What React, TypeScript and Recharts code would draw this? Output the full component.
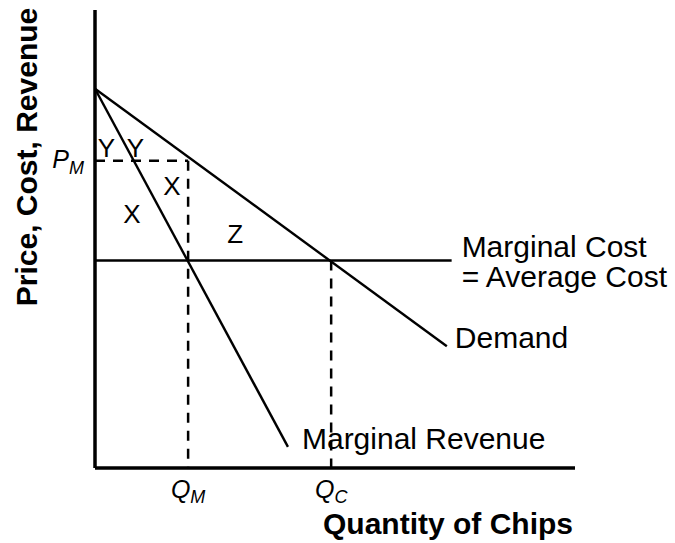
import { LineChart, Line, XAxis, YAxis, ReferenceDot } from "recharts"

const FONT = '"Liberation Sans", Arial, Helvetica, sans-serif'

// quantity (q) vs price (p), arbitrary units
const demand = [
  { q: 0, p: 82.8 },
  { q: 73.3, p: 26.6 },
]
const marginalRevenue = [
  { q: 0, p: 82.8 },
  { q: 40.2, p: 4.6 },
]
const marginalCost = [
  { q: 0, p: 45.3 },
  { q: 74.3, p: 45.3 },
]

const qM = 19.4
const qC = 49.2
const pM = 67.1
const mc = 45.3

const pmGuide = [
  { q: 0, p: pM },
  { q: qM, p: pM },
]
const qmGuide = [
  { q: qM, p: pM },
  { q: qM, p: 0 },
]
const qcGuide = [
  { q: qC, p: mc },
  { q: qC, p: 0 },
]

const xTicks = [qM, qC]
const xTickSubs = ["M", "C"]

// area letters, anchored at their centre/baseline
const areaLabels = [
  { q: 2.4, p: 67.9, text: "Y" },
  { q: 8.4, p: 67.9, text: "Y" },
  { q: 16.0, p: 59.6, text: "X" },
  { q: 7.7, p: 53.5, text: "X" },
  { q: 29.2, p: 49.1, text: "Z" },
]

const QTick = (props: any) => {
  const { x, y, index } = props
  return (
    <text x={x} y={y + 22} textAnchor="middle" fontFamily={FONT} fill="#000">
      <tspan fontSize={25} fontStyle="italic">Q</tspan>
      <tspan fontSize={18} fontStyle="italic" dy={5}>{xTickSubs[index]}</tspan>
    </text>
  )
}

const PTick = (props: any) => {
  const { x, y } = props
  return (
    <text x={x - 3} y={y + 7} textAnchor="end" fontFamily={FONT} fill="#000">
      <tspan fontSize={25} fontStyle="italic">P</tspan>
      <tspan fontSize={18} fontStyle="italic" dy={6}>M</tspan>
    </text>
  )
}

const note = (lines: string[], dx: number, dy: number, size = 30) => (p: any) => (
  <text x={p.cx + dx} y={p.cy + dy} fontFamily={FONT} fontSize={size} fill="#000">
    {lines.map((l, i) => (
      <tspan key={i} x={p.cx + dx} dy={i === 0 ? 0 : 30}>{l}</tspan>
    ))}
  </text>
)

const letter = (text: string) => (p: any) => (
  <text x={p.cx} y={p.cy} textAnchor="middle" fontFamily={FONT} fontSize={26} fill="#000">
    {text}
  </text>
)

export default function App() {
  return (
    <div style={{ position: "absolute", left: 0, top: 0, background: "#fff" }}>
      <LineChart width={675} height={543} margin={{ top: 10, right: 100, bottom: 0, left: 0 }}>
        <XAxis
          type="number"
          dataKey="q"
          domain={[0, 100]}
          ticks={xTicks}
          tick={<QTick />}
          tickLine={false}
          axisLine={{ stroke: "#000", strokeWidth: 3.5 }}
          height={75}
          allowDataOverflow
          label={(p: any) => (
            <text
              x={p.viewBox.x + p.viewBox.width - 2}
              y={p.viewBox.y + 66}
              textAnchor="end"
              fontFamily={FONT}
              fontWeight="bold"
              fontSize={30}
              fill="#000"
            >
              Quantity of Chips
            </text>
          )}
        />
        <YAxis
          type="number"
          dataKey="p"
          domain={[0, 100]}
          ticks={[pM]}
          tick={<PTick />}
          tickLine={false}
          axisLine={{ stroke: "#000", strokeWidth: 3.5 }}
          width={95}
          allowDataOverflow
          label={(p: any) => {
            const cx = p.viewBox.x + 37
            const cy = p.viewBox.y + 147
            return (
              <text
                x={cx}
                y={cy}
                textAnchor="middle"
                transform={`rotate(-90, ${cx}, ${cy})`}
                fontFamily={FONT}
                fontWeight="bold"
                fontSize={30}
                fill="#000"
              >
                Price, Cost, Revenue
              </text>
            )
          }}
        />

        <Line data={pmGuide} dataKey="p" stroke="#000" strokeWidth={2.5} strokeDasharray="10 8" dot={false} isAnimationActive={false} />
        <Line data={qmGuide} dataKey="p" stroke="#000" strokeWidth={2.5} strokeDasharray="10 8" dot={false} isAnimationActive={false} />
        <Line data={qcGuide} dataKey="p" stroke="#000" strokeWidth={2.5} strokeDasharray="10 8" dot={false} isAnimationActive={false} />

        <Line data={marginalCost} dataKey="p" stroke="#000" strokeWidth={2.4} dot={false} isAnimationActive={false} />
        <Line data={demand} dataKey="p" stroke="#000" strokeWidth={2.4} dot={false} isAnimationActive={false} />
        <Line data={marginalRevenue} dataKey="p" stroke="#000" strokeWidth={2.4} dot={false} isAnimationActive={false} />

        <ReferenceDot
          x={marginalCost[1].q}
          y={marginalCost[1].p}
          r={0}
          ifOverflow="visible"
          shape={note(["Marginal Cost", "= Average Cost"], 10, -4)}
        />
        <ReferenceDot
          x={demand[1].q}
          y={demand[1].p}
          r={0}
          ifOverflow="visible"
          shape={note(["Demand"], 8, 2)}
        />
        <ReferenceDot
          x={marginalRevenue[1].q}
          y={marginalRevenue[1].p}
          r={0}
          ifOverflow="visible"
          shape={note(["Marginal Revenue"], 14, 2)}
        />
        {areaLabels.map((a, i) => (
          <ReferenceDot key={i} x={a.q} y={a.p} r={0} ifOverflow="visible" shape={letter(a.text)} />
        ))}
      </LineChart>
    </div>
  )
}
